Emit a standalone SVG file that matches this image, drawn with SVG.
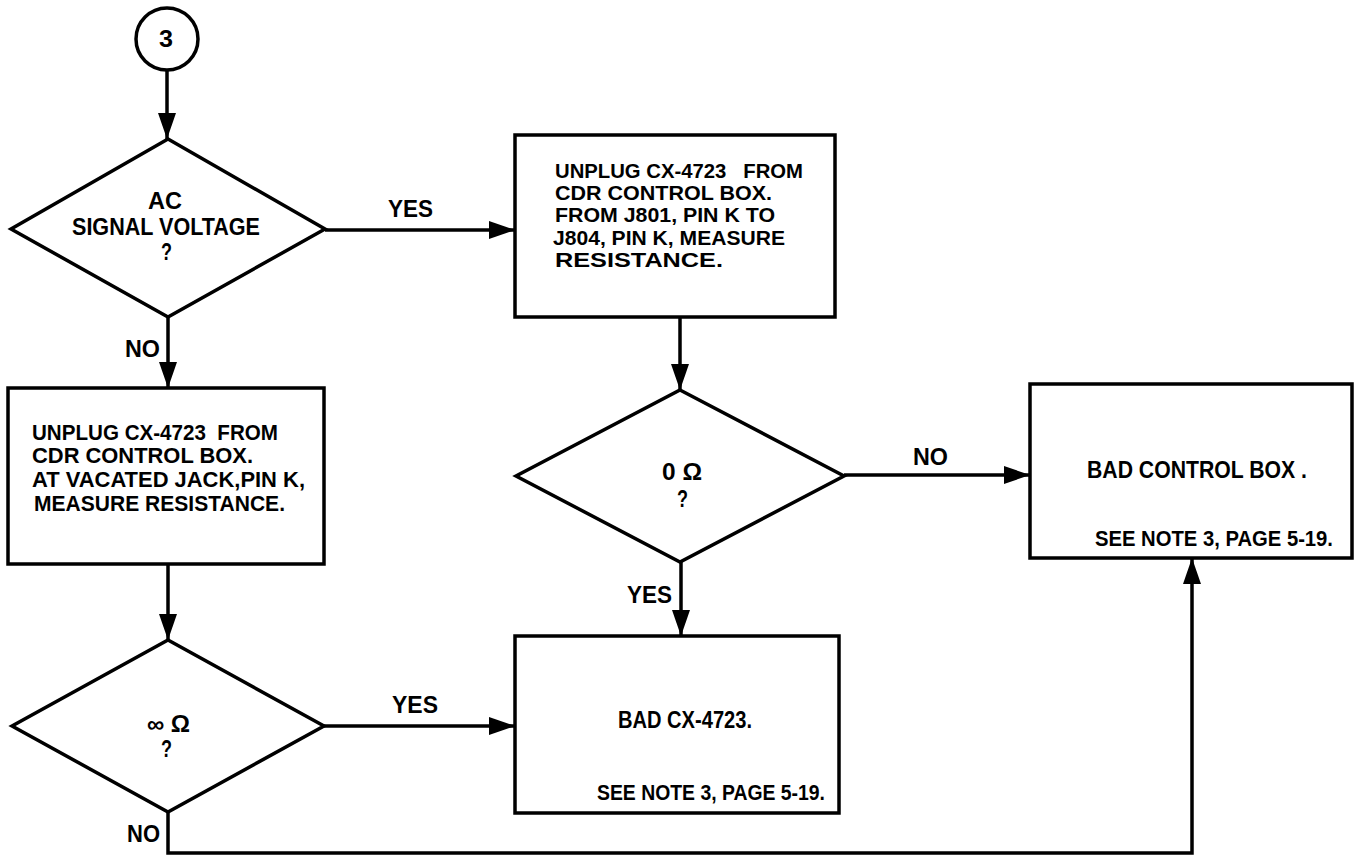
<svg xmlns="http://www.w3.org/2000/svg" width="1356" height="856" viewBox="0 0 1356 856">
<defs>
<style>
.shape{fill:#fff;stroke:#000;stroke-width:3.5;stroke-linejoin:miter}
.conn{fill:none;stroke:#000;stroke-width:3.5}
text{font-family:"Liberation Sans",Arial,sans-serif;font-weight:bold;font-size:23px;fill:#000}
.t{font-size:22px}
.s{font-size:21px}
</style>
<marker id="ah" markerUnits="userSpaceOnUse" viewBox="0 0 26 18" refX="26" refY="9" markerWidth="26" markerHeight="18" orient="auto">
<path d="M0,0 L26,9 L0,18 Z" fill="#000"/>
</marker>
</defs>
<rect width="1356" height="856" fill="#fff"/>

<g id="connectors">
<line class="conn" x1="167" y1="70" x2="167" y2="139" marker-end="url(#ah)"/>
<line class="conn" x1="325" y1="230" x2="515" y2="230" marker-end="url(#ah)"/>
<line class="conn" x1="168" y1="317" x2="168" y2="388" marker-end="url(#ah)"/>
<line class="conn" x1="680" y1="317" x2="680" y2="390" marker-end="url(#ah)"/>
<line class="conn" x1="844" y1="475" x2="1030" y2="475" marker-end="url(#ah)"/>
<line class="conn" x1="681" y1="562" x2="681" y2="636" marker-end="url(#ah)"/>
<line class="conn" x1="168" y1="564" x2="168" y2="640" marker-end="url(#ah)"/>
<line class="conn" x1="324" y1="726" x2="515" y2="726" marker-end="url(#ah)"/>
<polyline class="conn" points="168,812 168,853 1192,853 1192,558" marker-end="url(#ah)"/>
<text x="388" y="217" textLength="45" lengthAdjust="spacingAndGlyphs">YES</text>
<text x="125" y="357" textLength="35" lengthAdjust="spacingAndGlyphs">NO</text>
<text x="913" y="465" textLength="35" lengthAdjust="spacingAndGlyphs">NO</text>
<text x="627" y="603" textLength="45" lengthAdjust="spacingAndGlyphs">YES</text>
<text x="392" y="713" textLength="46" lengthAdjust="spacingAndGlyphs">YES</text>
<text x="127" y="842" textLength="33" lengthAdjust="spacingAndGlyphs">NO</text>
</g>

<g id="start">
<circle class="shape" cx="167" cy="39" r="31"/>
<text x="159" y="47" font-size="25" textLength="14" lengthAdjust="spacingAndGlyphs">3</text>
</g>

<g id="d-ac-signal">
<polygon class="shape" points="168,139 325,229 168,317 11,229"/>
<text x="148" y="209" textLength="34" lengthAdjust="spacingAndGlyphs">AC</text>
<text x="72" y="235" textLength="188" lengthAdjust="spacingAndGlyphs">SIGNAL VOLTAGE</text>
<text x="161" y="260" textLength="11" lengthAdjust="spacingAndGlyphs">?</text>
</g>

<g id="b-unplug-j801">
<rect class="shape" x="515" y="135" width="320" height="182"/>
<text class="s" x="555" y="178" textLength="248" lengthAdjust="spacingAndGlyphs">UNPLUG CX-4723&#160;&#160; FROM</text>
<text class="s" x="555" y="200" textLength="217" lengthAdjust="spacingAndGlyphs">CDR CONTROL BOX.</text>
<text class="s" x="555" y="222" textLength="220" lengthAdjust="spacingAndGlyphs">FROM J801, PIN K TO</text>
<text class="s" x="553" y="245" textLength="232" lengthAdjust="spacingAndGlyphs">J804, PIN K, MEASURE</text>
<text class="s" x="555" y="267" textLength="168" lengthAdjust="spacingAndGlyphs">RESISTANCE.</text>
</g>

<g id="b-unplug-vacated">
<rect class="shape" x="8" y="388" width="316" height="176"/>
<text class="t" x="32" y="440" textLength="246" lengthAdjust="spacingAndGlyphs">UNPLUG CX-4723&#160; FROM</text>
<text class="t" x="32" y="463" textLength="221" lengthAdjust="spacingAndGlyphs">CDR CONTROL BOX.</text>
<text class="t" x="32" y="487" textLength="273" lengthAdjust="spacingAndGlyphs">AT VACATED JACK,PIN K,</text>
<text class="t" x="34" y="511" textLength="251" lengthAdjust="spacingAndGlyphs">MEASURE RESISTANCE.</text>
</g>

<g id="d-zero-ohm">
<polygon class="shape" points="680,390 844,476 680,562 516,476"/>
<text x="662" y="480" textLength="40" lengthAdjust="spacingAndGlyphs">0 Ω</text>
<text x="677" y="507" textLength="11" lengthAdjust="spacingAndGlyphs">?</text>
</g>

<g id="b-bad-control-box">
<rect class="shape" x="1030" y="384" width="322" height="174"/>
<text x="1087" y="478" textLength="220" lengthAdjust="spacingAndGlyphs">BAD CONTROL BOX .</text>
<text class="t" x="1095" y="546" textLength="238" lengthAdjust="spacingAndGlyphs">SEE NOTE 3, PAGE 5-19.</text>
</g>

<g id="d-inf-ohm">
<polygon class="shape" points="168,640 324,726 168,812 12,726"/>
<text x="147" y="732" textLength="43" lengthAdjust="spacingAndGlyphs">∞ Ω</text>
<text x="161" y="757" textLength="11" lengthAdjust="spacingAndGlyphs">?</text>
</g>

<g id="b-bad-cx4723">
<rect class="shape" x="515" y="636" width="324" height="177"/>
<text x="618" y="728" textLength="134" lengthAdjust="spacingAndGlyphs">BAD CX-4723.</text>
<text class="t" x="597" y="800" textLength="228" lengthAdjust="spacingAndGlyphs">SEE NOTE 3, PAGE 5-19.</text>
</g>
</svg>
